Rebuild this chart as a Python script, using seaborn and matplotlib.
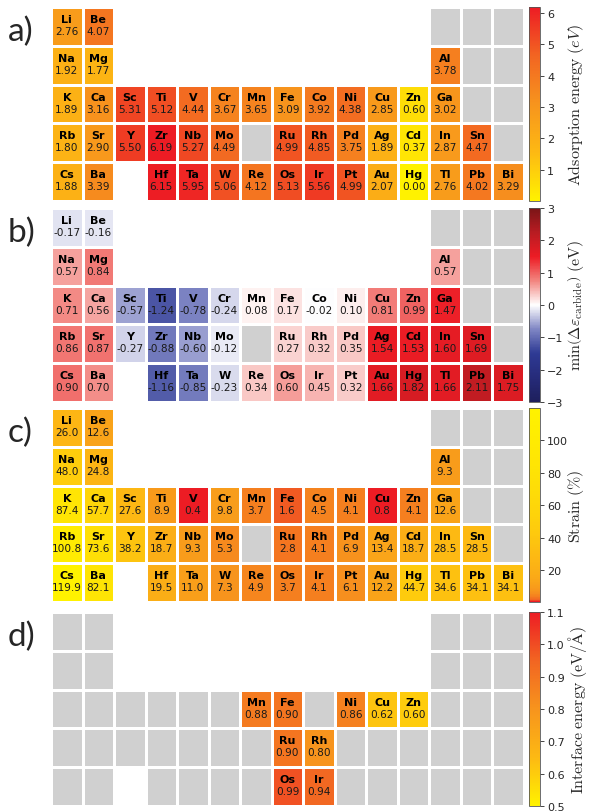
import numpy as np
import matplotlib
matplotlib.use("Agg")
import matplotlib.pyplot as plt
import seaborn as sns
from matplotlib.colors import LinearSegmentedColormap, ListedColormap, LogNorm

# Periodic-table layout (blank string = no cell drawn)
table_rows = [
    ["Li", "Be", "", "", "", "", "", "", "", "", "", "", "B", "C", "N"],
    ["Na", "Mg", "", "", "", "", "", "", "", "", "", "", "Al", "Si", "P"],
    ["K", "Ca", "Sc", "Ti", "V", "Cr", "Mn", "Fe", "Co", "Ni", "Cu", "Zn", "Ga", "Ge", "As"],
    ["Rb", "Sr", "Y", "Zr", "Nb", "Mo", "Tc", "Ru", "Rh", "Pd", "Ag", "Cd", "In", "Sn", "Sb"],
    ["Cs", "Ba", "", "Hf", "Ta", "W", "Re", "Os", "Ir", "Pt", "Au", "Hg", "Tl", "Pb", "Bi"],
]

# Elements computed for panels a-c
elements = ["Li", "Be",
            "Na", "Mg", "Al",
            "K", "Ca", "Sc", "Ti", "V", "Cr", "Mn", "Fe", "Co", "Ni", "Cu", "Zn", "Ga",
            "Rb", "Sr", "Y", "Zr", "Nb", "Mo", "Ru", "Rh", "Pd", "Ag", "Cd", "In", "Sn",
            "Cs", "Ba", "Hf", "Ta", "W", "Re", "Os", "Ir", "Pt", "Au", "Hg", "Tl", "Pb", "Bi"]

adsorption_energy = [2.76, 4.07,
                     1.92, 1.77, 3.78,
                     1.89, 3.16, 5.31, 5.12, 4.44, 3.67, 3.65, 3.09, 3.92, 4.38, 2.85, 0.60, 3.02,
                     1.80, 2.90, 5.50, 6.19, 5.27, 4.49, 4.99, 4.85, 3.75, 1.89, 0.37, 2.87, 4.47,
                     1.88, 3.39, 6.15, 5.95, 5.06, 4.12, 5.13, 5.56, 4.99, 2.07, 0.00, 2.76, 4.02, 3.29]

min_delta_carbide = [-0.17, -0.16,
                     0.57, 0.84, 0.57,
                     0.71, 0.56, -0.57, -1.24, -0.78, -0.24, 0.08, 0.17, -0.02, 0.10, 0.81, 0.99, 1.47,
                     0.86, 0.87, -0.27, -0.88, -0.60, -0.12, 0.27, 0.32, 0.35, 1.54, 1.53, 1.60, 1.69,
                     0.90, 0.70, -1.16, -0.85, -0.23, 0.34, 0.60, 0.45, 0.32, 1.66, 1.82, 1.66, 2.11, 1.75]

strain = [26.0, 12.6,
          48.0, 24.8, 9.3,
          87.4, 57.7, 27.6, 8.9, 0.4, 9.8, 3.7, 1.6, 4.5, 4.1, 0.8, 4.1, 12.6,
          100.8, 73.6, 38.2, 18.7, 9.3, 5.3, 2.8, 4.1, 6.9, 13.4, 18.7, 28.5, 28.5,
          119.9, 82.1, 19.5, 11.0, 7.3, 4.9, 3.7, 4.1, 6.1, 12.2, 44.7, 34.6, 34.1, 34.1]

# Interface energies (panel d)
interface_elements = ["Mn", "Fe", "Ni", "Cu", "Zn", "Ru", "Rh", "Os", "Ir"]
interface_energy = [0.88, 0.90, 0.86, 0.62, 0.60, 0.90, 0.80, 0.99, 0.94]

panel_letters = ["a)", "b)", "c)", "d)"]
cbar_labels = [r"$\mathrm{Adsorption\ energy}\ (eV)$",
               r"$\min\left(\Delta\varepsilon_{\mathrm{carbide}}\right)\ (\mathrm{eV})$",
               r"$\mathrm{Strain}\ (\%)$",
               r"$\mathrm{Interface\ energy}\ (\mathrm{eV}/\mathrm{\AA})$"]
cbar_ticks = [[1, 2, 3, 4, 5, 6],
              [-3, -2, -1, 0, 1, 2, 3],
              [20, 40, 60, 80, 100],
              [0.5, 0.6, 0.7, 0.8, 0.9, 1.0, 1.1]]

# ---------------------------------------------------------------- styling
sns.set_style("white")
plt.rcParams["font.family"] = ["DejaVu Sans"]
plt.rcParams["mathtext.fontset"] = "cm"

GRAY = "#d0d0d0"
# yellow (low) -> red (high)
warm = LinearSegmentedColormap.from_list(
    "warm", ["#fff200", "#fdb913", "#f7941d", "#f26522", "#ed1c24"])
# red (low) -> yellow (high)
warm_rev = warm.reversed()
diverging = LinearSegmentedColormap.from_list(
    "diverging",
    [(0.0, "#1e1f5c"), (0.125, "#262b7a"), (0.25, "#2e3a94"), (0.375, "#7f86c4"),
     (0.5, "#ffffff"), (0.625, "#f2857f"), (0.75, "#ed1c24"), (0.875, "#b81c22"),
     (1.0, "#7a1517")])


def log_stretched(cmap, lo, hi, n=256):
    """Colormap on a linear axis whose colours follow a logarithmic scale."""
    v = np.linspace(lo, hi, n)
    return ListedColormap(cmap(LogNorm(lo, hi)(v)))


def to_grid(symbols, values):
    lookup = dict(zip(symbols, values))
    vals = np.full((5, 15), np.nan)
    present = np.zeros((5, 15), bool)
    for r, row in enumerate(table_rows):
        for c, sym in enumerate(row):
            if sym:
                present[r, c] = True
                if sym in lookup:
                    vals[r, c] = lookup[sym]
    return vals, present


W, H = 589, 812
fig = plt.figure(figsize=(W / 100, H / 100), dpi=100)

panel_tops = [8, 209, 409, 613]
panel_h = 194

panels = [
    (elements, adsorption_energy, warm, min(adsorption_energy), max(adsorption_energy), "{:.2f}"),
    (elements, min_delta_carbide, diverging, -3, 3, "{:.2f}"),
    (elements, strain, log_stretched(warm_rev, min(strain), max(strain)), min(strain), max(strain), "{:.1f}"),
    (interface_elements, interface_energy, warm, 0.5, 1.1, "{:.2f}"),
]

for i, (syms, values, cmap, vmin, vmax, fmt) in enumerate(panels):
    top = panel_tops[i]
    bottom = 1 - (top + panel_h) / H
    ax = fig.add_axes([51 / W, bottom, 473 / W, panel_h / H])
    cax = fig.add_axes([529 / W, bottom, 11 / W, panel_h / H])

    vals, present = to_grid(syms, values)
    gray = np.where(present & np.isnan(vals), 1.0, np.nan)

    sns.heatmap(gray, ax=ax, cmap=ListedColormap([GRAY]), vmin=0, vmax=2,
                mask=np.isnan(gray), cbar=False, linewidths=1, linecolor="white",
                xticklabels=False, yticklabels=False)
    sns.heatmap(vals, ax=ax, cmap=cmap, vmin=vmin, vmax=vmax,
                mask=np.isnan(vals), cbar_ax=cax, linewidths=1, linecolor="white",
                xticklabels=False, yticklabels=False,
                cbar_kws={"ticks": cbar_ticks[i]})
    ax.set_xticks([])
    ax.set_yticks([])

    for r, row in enumerate(table_rows):
        for c, sym in enumerate(row):
            if sym and not np.isnan(vals[r, c]):
                ax.text(c + 0.5, r + 0.31, sym, ha="center", va="center",
                        fontsize=8, fontweight="bold", color="black")
                ax.text(c + 0.5, r + 0.62, fmt.format(vals[r, c]), ha="center",
                        va="center", fontsize=7.6, color="#1a1a1a")

    cbar = ax.collections[-1].colorbar
    cbar.outline.set_linewidth(0.6)
    cbar.outline.set_edgecolor("#555555")
    cax.tick_params(labelsize=8, length=3, width=0.6, pad=2)
    if i == 3:
        cax.set_yticklabels([f"{t:.1f}" for t in cbar_ticks[i]])
    cbar.set_label(cbar_labels[i], fontsize=11.5)
    cax.yaxis.set_label_coords(3.4, 0.5)

    fig.text(8 / W, 1 - (top + 24) / H, panel_letters[i], fontsize=24,
             family=["Lato", "DejaVu Sans"], ha="left", va="center")

fig.savefig("out.png", dpi=100)
